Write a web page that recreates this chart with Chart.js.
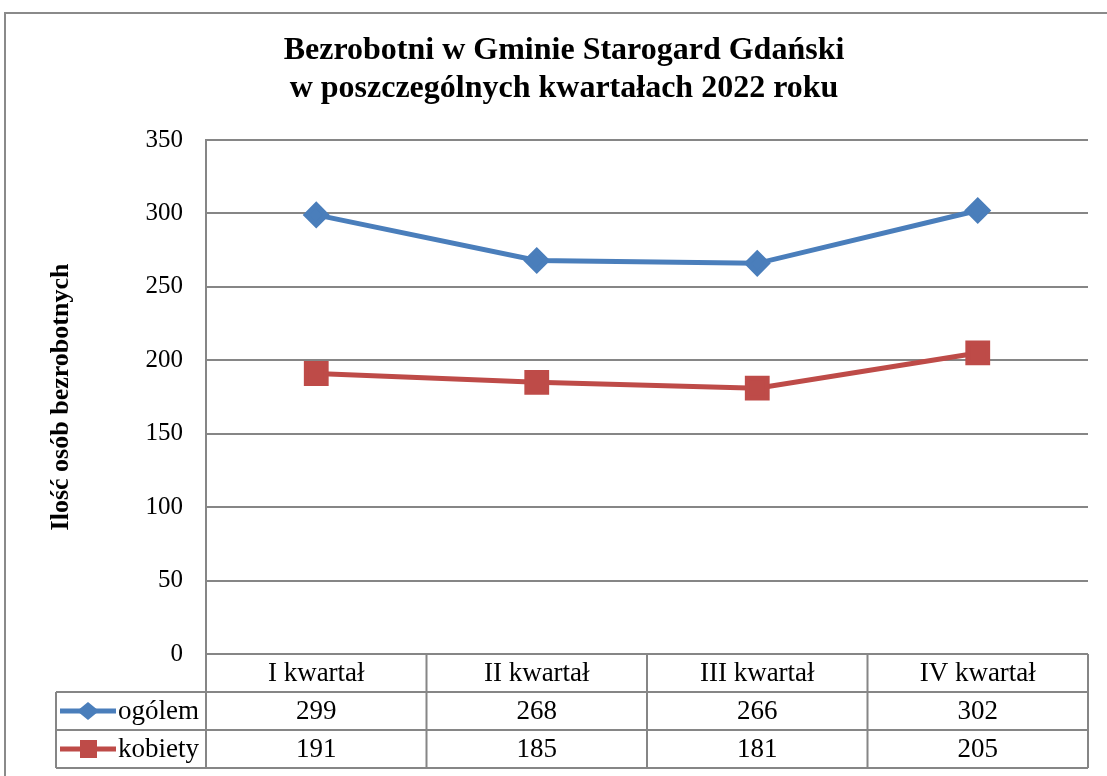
<!DOCTYPE html>
<html>
<head>
<meta charset="utf-8">
<script src="https://cdn.jsdelivr.net/npm/chart.js@4"></script>
<style>
    html, body { margin: 0; padding: 0; background: #fff; }
    #wrap { width: 1107px; height: 776px; }
</style>
</head>
<body>
<div id="wrap"><canvas id="chart" width="1107" height="776"></canvas></div>
<script>
const quarters = ['I kwartał', 'II kwartał', 'III kwartał', 'IV kwartał'];
const ogolem = [299, 268, 266, 302];
const kobiety = [191, 185, 181, 205];
const seriesNames = ['ogólem', 'kobiety'];
const titleLines = ['Bezrobotni w Gminie Starogard Gdański', 'w poszczególnych kwartałach 2022 roku'];

const serif = '"Liberation Serif", "Times New Roman", serif';
const gridColor = '#868686';

// frame, title and the data table under the plot (positions from the x scale)
const tablePlugin = {
    id: 'dataTable',
    beforeDraw(chart) {
        const ctx = chart.ctx;
        ctx.save();
        ctx.strokeStyle = '#8a8a8a';
        ctx.lineWidth = 2;
        ctx.strokeRect(5, 13, 1200, 1000);

        ctx.fillStyle = '#000';
        ctx.font = 'bold 32px ' + serif;
        ctx.textAlign = 'center';
        ctx.textBaseline = 'middle';
        ctx.fillText(titleLines[0], 564, 51);
        ctx.fillText(titleLines[1], 564, 89);
        ctx.restore();
    },
    afterDraw(chart) {
        const ctx = chart.ctx;
        const x = chart.scales.x;
        const area = chart.chartArea;
        const rowH = 38;
        const top = area.bottom;
        const left = 56;
        const step = x.getPixelForValue(1) - x.getPixelForValue(0);
        const edges = [];
        for (let i = 0; i <= quarters.length; i++) {
            edges.push(x.getPixelForValue(0) - step / 2 + i * step);
        }
        const right = edges[edges.length - 1];

        ctx.save();
        ctx.strokeStyle = gridColor;
        ctx.lineWidth = 2;
        ctx.beginPath();
        for (let r = 1; r <= 3; r++) {
            ctx.moveTo(left, top + r * rowH);
            ctx.lineTo(right, top + r * rowH);
        }
        edges.forEach(ex => {
            ctx.moveTo(ex, top);
            ctx.lineTo(ex, top + 3 * rowH);
        });
        ctx.moveTo(left, top + rowH);
        ctx.lineTo(left, top + 3 * rowH);
        ctx.stroke();

        ctx.fillStyle = '#000';
        ctx.font = '27px ' + serif;
        ctx.textAlign = 'center';
        ctx.textBaseline = 'middle';
        quarters.forEach((q, i) => {
            const cx = x.getPixelForValue(i);
            ctx.fillText(q, cx, top + rowH / 2 + 1);
            ctx.fillText(String(ogolem[i]), cx, top + rowH * 1.5 + 1);
            ctx.fillText(String(kobiety[i]), cx, top + rowH * 2.5 + 1);
        });

        // legend keys in the first column
        chart.data.datasets.forEach((ds, d) => {
            const cy = top + rowH * (1.5 + d);
            ctx.strokeStyle = ds.borderColor;
            ctx.lineWidth = 5;
            ctx.beginPath();
            ctx.moveTo(60, cy);
            ctx.lineTo(116, cy);
            ctx.stroke();
            ctx.fillStyle = ds.borderColor;
            if (d === 0) {
                ctx.beginPath();
                ctx.moveTo(88, cy - 9);
                ctx.lineTo(99, cy);
                ctx.lineTo(88, cy + 9);
                ctx.lineTo(77, cy);
                ctx.closePath();
                ctx.fill();
            } else {
                ctx.fillRect(80, cy - 9, 17, 18);
            }
            ctx.fillStyle = '#000';
            ctx.textAlign = 'left';
            ctx.fillText(ds.label, 118, cy + 1);
        });
        ctx.restore();
    }
};

new Chart(document.getElementById('chart'), {
    type: 'line',
    data: {
        labels: quarters,
        datasets: [{
            label: seriesNames[0],
            data: ogolem,
            borderColor: '#4a7ebb',
            backgroundColor: '#4a7ebb',
            borderWidth: 5,
            pointStyle: 'rectRot',
            pointRadius: 10,
            pointHoverRadius: 10,
            tension: 0
        }, {
            label: seriesNames[1],
            data: kobiety,
            borderColor: '#be4b48',
            backgroundColor: '#be4b48',
            borderWidth: 5,
            pointStyle: 'rect',
            pointRadius: 14,
            pointHoverRadius: 14,
            tension: 0
        }]
    },
    options: {
        responsive: false,
        animation: false,
        layout: {
            padding: {left: 0, right: 17, top: 140, bottom: 122}
        },
        plugins: {
            legend: {display: false},
            tooltip: {enabled: false},
            title: {display: false}
        },
        scales: {
            x: {
                display: false,
                offset: true
            },
            y: {
                min: 0,
                max: 350,
                ticks: {
                    stepSize: 50,
                    color: '#000',
                    padding: 23,
                    font: {family: serif, size: 25}
                },
                grid: {color: gridColor, lineWidth: 2, drawTicks: false},
                border: {color: gridColor, width: 2},
                title: {
                    display: true,
                    text: 'Ilość osób bezrobotnych',
                    color: '#000',
                    font: {family: serif, size: 26, weight: 'bold'},
                    padding: {top: 46, bottom: 0}
                },
                afterFit(scale) {
                    scale.width = 206;
                }
            }
        }
    },
    plugins: [tablePlugin]
});
</script>
</body>
</html>
